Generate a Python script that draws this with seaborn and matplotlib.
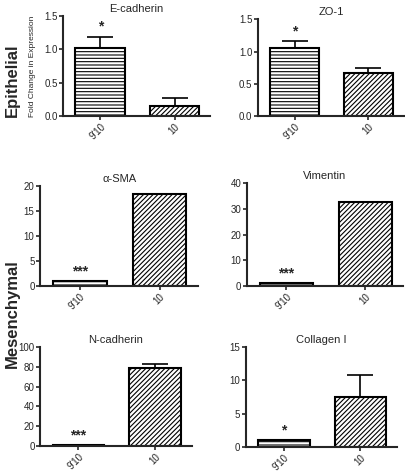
import numpy as np
import matplotlib
matplotlib.use('Agg')
import matplotlib.pyplot as plt
import seaborn as sns
import pandas as pd

sns.set_style("ticks")
plt.rcParams['font.family'] = ['Liberation Sans', 'DejaVu Sans']
plt.rcParams['hatch.linewidth'] = 0.8

groups = ["9'10", "10"]
markers = ['E-cadherin', 'ZO-1', '\u03b1-SMA', 'Vimentin', 'N-cadherin', 'Collagen I']
means = [[1.02, 0.15], [1.05, 0.67], [1.0, 18.3], [1.0, 32.5], [1.0, 79.0], [1.0, 7.5]]
errs = [[0.17, 0.12], [0.11, 0.07], [0.0, 0.0], [0.0, 0.0], [0.0, 3.5], [0.0, 3.3]]
stars = ['*', '*', '***', '***', '***', '*']
ylims = [1.5, 1.5, 20, 40, 100, 15]
yticks = [[0, 0.5, 1.0, 1.5], [0, 0.5, 1.0, 1.5], [0, 5, 10, 15, 20],
          [0, 10, 20, 30, 40], [0, 20, 40, 60, 80, 100], [0, 5, 10, 15]]

# axes boxes in figure fractions
boxes = [[0.156, 0.754, 0.363, 0.212], [0.637, 0.754, 0.360, 0.205],
         [0.099, 0.394, 0.390, 0.212], [0.610, 0.394, 0.385, 0.218],
         [0.099, 0.055, 0.375, 0.210], [0.607, 0.053, 0.373, 0.212]]

fig = plt.figure(figsize=(4.05, 4.72), dpi=100)
for k in range(6):
    ax = fig.add_axes(boxes[k])
    df = pd.DataFrame({'group': groups, 'value': means[k]})
    sns.barplot(data=df, x='group', y='value', color='white',
                edgecolor='black', linewidth=1.5, width=0.67, ax=ax,
                errorbar=None, saturation=1)
    hatches = ['-----', '///////']
    for p, h in zip(ax.patches, hatches):
        p.set_hatch(h)
        p.set_facecolor('white')
    for i in range(2):
        if errs[k][i] > 0:
            ax.errorbar(i, means[k][i], yerr=[[0], [errs[k][i]]], fmt='none',
                        ecolor='black', elinewidth=1.2, capsize=9.5,
                        capthick=1.2)
    top = means[k][0] + errs[k][0]
    ax.text(0, top + ylims[k] * 0.03, stars[k], ha='center', va='bottom',
            fontsize=10, fontweight='bold')
    ax.set_xlim(-0.5, 1.48)
    ax.set_ylim(0, ylims[k])
    ax.set_yticks(yticks[k])
    if ylims[k] == 1.5:
        ax.set_yticklabels(['0.0', '0.5', '1.0', '1.5'])
    ax.set_xlabel('')
    ax.set_ylabel('')
    ax.set_title(markers[k], fontsize=8, pad=3)
    ax.tick_params(axis='both', labelsize=7, length=3, width=1.2, pad=1)
    plt.setp(ax.get_xticklabels(), rotation=45, ha='right',
             rotation_mode='anchor')
    for s in ['left', 'bottom']:
        ax.spines[s].set_linewidth(1.5)
    sns.despine(ax=ax)
    if k == 0:
        ax.set_ylabel('Fold Change in Expression', fontsize=6, labelpad=6)

fig.text(0.03, 0.83, 'Epithelial', rotation=90, ha='center', va='center',
         fontsize=12, fontweight='bold')
fig.text(0.03, 0.335, 'Mesenchymal', rotation=90, ha='center', va='center',
         fontsize=12, fontweight='bold')

fig.savefig('out.png', dpi=100)
